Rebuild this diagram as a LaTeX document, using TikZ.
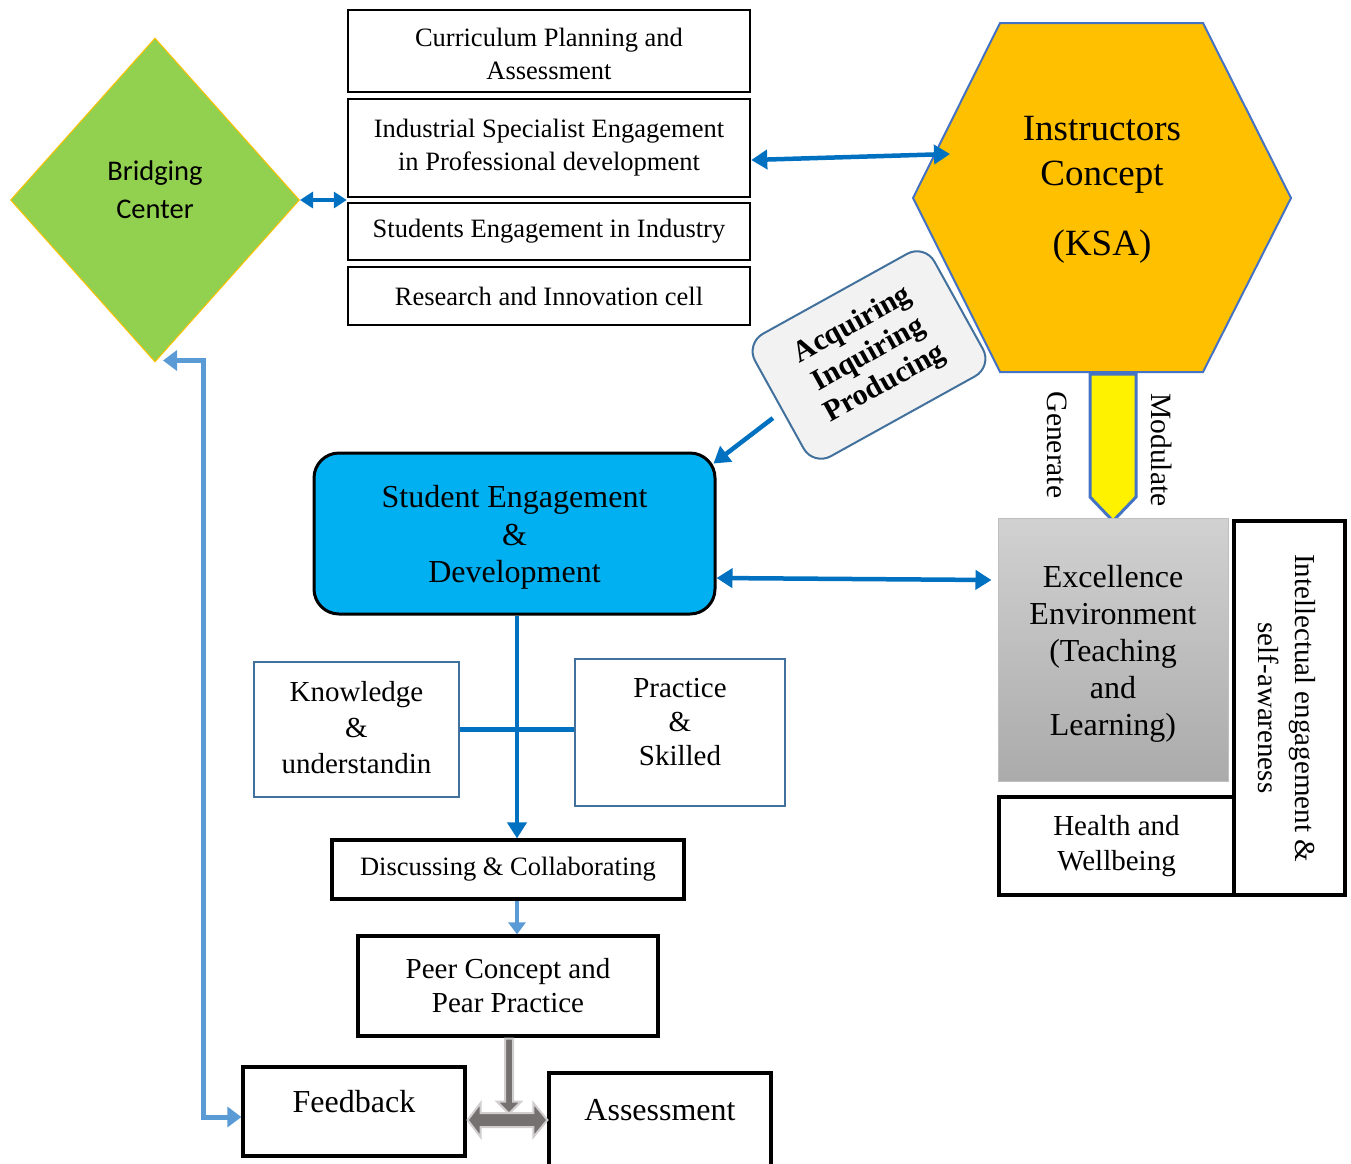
\documentclass[tikz,border=0pt]{standalone}
\usepackage{fontspec}
\setmainfont{Liberation Serif}
\newfontfamily\calibrifont{Carlito}
\usetikzlibrary{arrows.meta,shapes.geometric,calc}
\definecolor{arrowblue}{HTML}{0070C0}
\definecolor{lightblue}{HTML}{5B9BD5}
\definecolor{steelblue}{HTML}{41719C}
\definecolor{greenfill}{HTML}{92D050}
\definecolor{goldfill}{HTML}{FFC000}
\definecolor{hexborder}{HTML}{4472C4}
\definecolor{cyanfill}{HTML}{00B0F0}
\definecolor{paleg}{HTML}{F2F2F2}
\definecolor{darkgrayfill}{HTML}{767171}
\definecolor{lightgrayline}{HTML}{D0CECE}
\newcommand{\fsz}[2]{\fontsize{#1}{#2}\selectfont}
\begin{document}
\begin{tikzpicture}[x=1pt,y=-1pt,
  topbox/.style={draw, line width=2.5pt, minimum width=402pt, inner sep=0pt, align=center, font=\fsz{26.5}{33}},
  thickbox/.style={draw, line width=3.2pt, inner sep=0pt, align=center},
  bluebox/.style={draw=steelblue, line width=2pt, inner sep=0pt, align=center, font=\fsz{29}{36}},
  bluearrow/.style={draw=arrowblue, line width=4.5pt},
  dblhead/.style={{Triangle[length=16pt,width=19pt]}-{Triangle[length=16pt,width=19pt]}},
  onehead/.style={-{Triangle[length=16pt,width=19pt]}}
]
\useasboundingbox (0,0) rectangle (1351,1163);

% Bridging center
\node[diamond, draw=goldfill, line width=1pt, fill=greenfill, minimum width=289pt, minimum height=324pt, inner sep=0pt] (bc) at (155,200) {};
\node[font=\calibrifont\fsz{28.5}{38}, align=center] (bctext) at (155,190) {Bridging\\Center};

% Top boxes
\node[topbox, minimum height=82pt, label={[font=\fsz{26.5}{33}, align=center, yshift=-2.5pt]center:Curriculum Planning and\\Assessment}] (b1) at (549,51) {};
\node[topbox, minimum height=98pt] (b2) at (549,148) {Industrial Specialist Engagement\\in Professional development};
\node[topbox, minimum height=57pt] (b3) at (549,231.5) {Students Engagement in Industry};
\node[topbox, minimum height=58pt] (b4) at (549,296) {Research and Innovation cell};

% Hexagon
\fill[goldfill] (1000,23) -- (1203,23) -- (1291,198) -- (1203,372) -- (1000,372) -- (913,198) -- cycle;
\draw[hexborder, line width=2pt] (1000,23) -- (1203,23) -- (1291,198) -- (1203,372) -- (1000,372) -- (913,198) -- cycle;
\node[font=\fsz{37}{45}, align=center] (ksa) at (1102,190) {Instructors\\Concept\\[25pt](KSA)};
\coordinate (hexin) at (950,154);
\coordinate (hexbot) at (1113,374);

% Yellow arrow
\draw[hexborder, line width=3pt, fill=yellow, line join=miter]
  ($(hexbot)+(-23,0)$) -- ($(hexbot)+(23,0)$) -- ($(hexbot)+(23,123)$) -- ($(hexbot)+(0,147)$) -- ($(hexbot)+(-23,123)$) -- cycle;
\node[font=\fsz{29.5}{36}, rotate=-90] (gen) at (1057,445) {Generate};
\node[font=\fsz{29.5}{36}, rotate=-90] (mod) at (1162,450) {Modulate};

% Rotated box
\node[draw=steelblue, line width=2pt, fill=paleg, rounded corners=20pt, minimum width=205pt, minimum height=140pt, rotate=29, align=center, font=\bfseries\fsz{30}{33.5}, inner sep=0pt] (aip) at (869,355) {Acquiring\\Inquiring\\Producing};

% Student engagement
\node[draw, line width=3pt, fill=cyanfill, rounded corners=25pt, minimum width=401pt, minimum height=161pt, inner sep=0pt,
  label={[font=\fsz{32}{37.5}, align=center, yshift=-4pt]center:Student Engagement\\\&\\Development}] (se) at (514.5,533.5) {};

% Excellence
\node[draw=gray!50, line width=1pt, top color=black!18, bottom color=black!33, minimum width=230pt, minimum height=263pt, inner sep=0pt] (ex) at (1113,649.5) {};
\node[font=\fsz{32}{37}, align=center] (extext) at (1113,654) {Excellence\\Environment\\(Teaching\\and\\Learning)};

% Intellectual and Health
\node[thickbox, minimum width=111pt, minimum height=374pt] (ie) at (1289.5,708) {};
\node[font=\fsz{29}{37}, align=center, rotate=-90] (ietext) at (1286.5,708) {Intellectual engagement \&\\self-awareness};
\node[thickbox, minimum width=235pt, minimum height=98pt, font=\fsz{29}{35}] (hw) at (1116.5,846) {Health and\\Wellbeing};

% Knowledge and Practice
\node[bluebox, minimum width=205pt, minimum height=135pt, label={[font=\fsz{29}{36}, align=center, yshift=2pt]center:Knowledge\\\&\\understandin}] (kn) at (356.5,729.5) {};
\node[bluebox, minimum width=210pt, minimum height=147pt, label={[font=\fsz{29}{34}, align=center, yshift=10pt]center:Practice\\\&\\Skilled}] (pr) at (680,732.5) {};

% Lower boxes
\node[thickbox, minimum width=352pt, minimum height=59pt, font=\fsz{26.5}{33}] (dc) at (508,869.5) {Discussing \& Collaborating};
\node[thickbox, minimum width=300pt, minimum height=100pt, font=\fsz{29}{34}] (pc) at (508,986) {Peer Concept and\\Pear Practice};
\node[thickbox, minimum width=222pt, minimum height=89pt, label={[font=\fsz{32}{37}, yshift=10pt]center:Feedback}] (fb) at (354,1111.5) {};
\node[thickbox, minimum width=222pt, minimum height=100pt, label={[font=\fsz{32}{37}, yshift=13pt]center:Assessment}] (as) at (660,1123) {};

% Connectors
\draw[bluearrow, {Triangle[length=13pt,width=16pt]}-{Triangle[length=13pt,width=16pt]}] (bc.east) -- (b2.south west |- bc.east);
\draw[bluearrow, dblhead] ([yshift=-12pt]b2.east) -- (hexin);
\draw[bluearrow, onehead] ([shift={(-10,5)}]aip.185) -- ([xshift=-3pt,yshift=-12pt]se.north east);
\draw[bluearrow, dblhead] ([yshift=-44.5pt]se.east) -- ([xshift=-6pt,yshift=69.5pt]ex.west);
\draw[bluearrow] (kn.east) -- (pr.west |- kn.east);
\draw[bluearrow, onehead] (se.south -| dc.north) ++(9,0) coordinate (sed) (sed) -- (sed |- dc.north);
\draw[lightblue, line width=4pt, -{Triangle[length=12pt,width=17pt]}] ([xshift=9pt]dc.south) -- ([xshift=9pt]pc.north);
\coordinate (bcb) at ($(bc.south)+(8,-2)$);
\draw[lightblue, line width=5pt, {Triangle[length=14pt,width=20pt]}-{Triangle[length=14pt,width=20pt]}, line join=miter]
  (bcb) -- ++(40,0) |- ([yshift=-5.5pt]fb.west);

% Gray arrows
\coordinate (pcb) at ($(pc.south)+(1,0)$);
\draw[lightgrayline, line width=2pt, fill=darkgrayfill]
  ($(pcb)+(-4,1)$) -- ($(pcb)+(4,1)$) -- ($(pcb)+(4,64)$) -- ($(pcb)+(12,64)$) -- ($(pcb)+(0,76)$) -- ($(pcb)+(-12,64)$) -- ($(pcb)+(-4,64)$) -- cycle;
\coordinate (hl) at (fb.east |- 0,1120);
\coordinate (hr) at (as.west |- 0,1120);
\draw[lightgrayline, line width=2pt, fill=darkgrayfill]
  ($(hl)+(1,0)$) -- ($(hl)+(14,-17)$) -- ($(hl)+(14,-7)$) -- ($(hr)+(-14,-7)$) -- ($(hr)+(-14,-17)$) -- ($(hr)+(0,0)$)
  -- ($(hr)+(-14,17)$) -- ($(hr)+(-14,7)$) -- ($(hl)+(14,7)$) -- ($(hl)+(14,17)$) -- cycle;
\end{tikzpicture}
\end{document}
